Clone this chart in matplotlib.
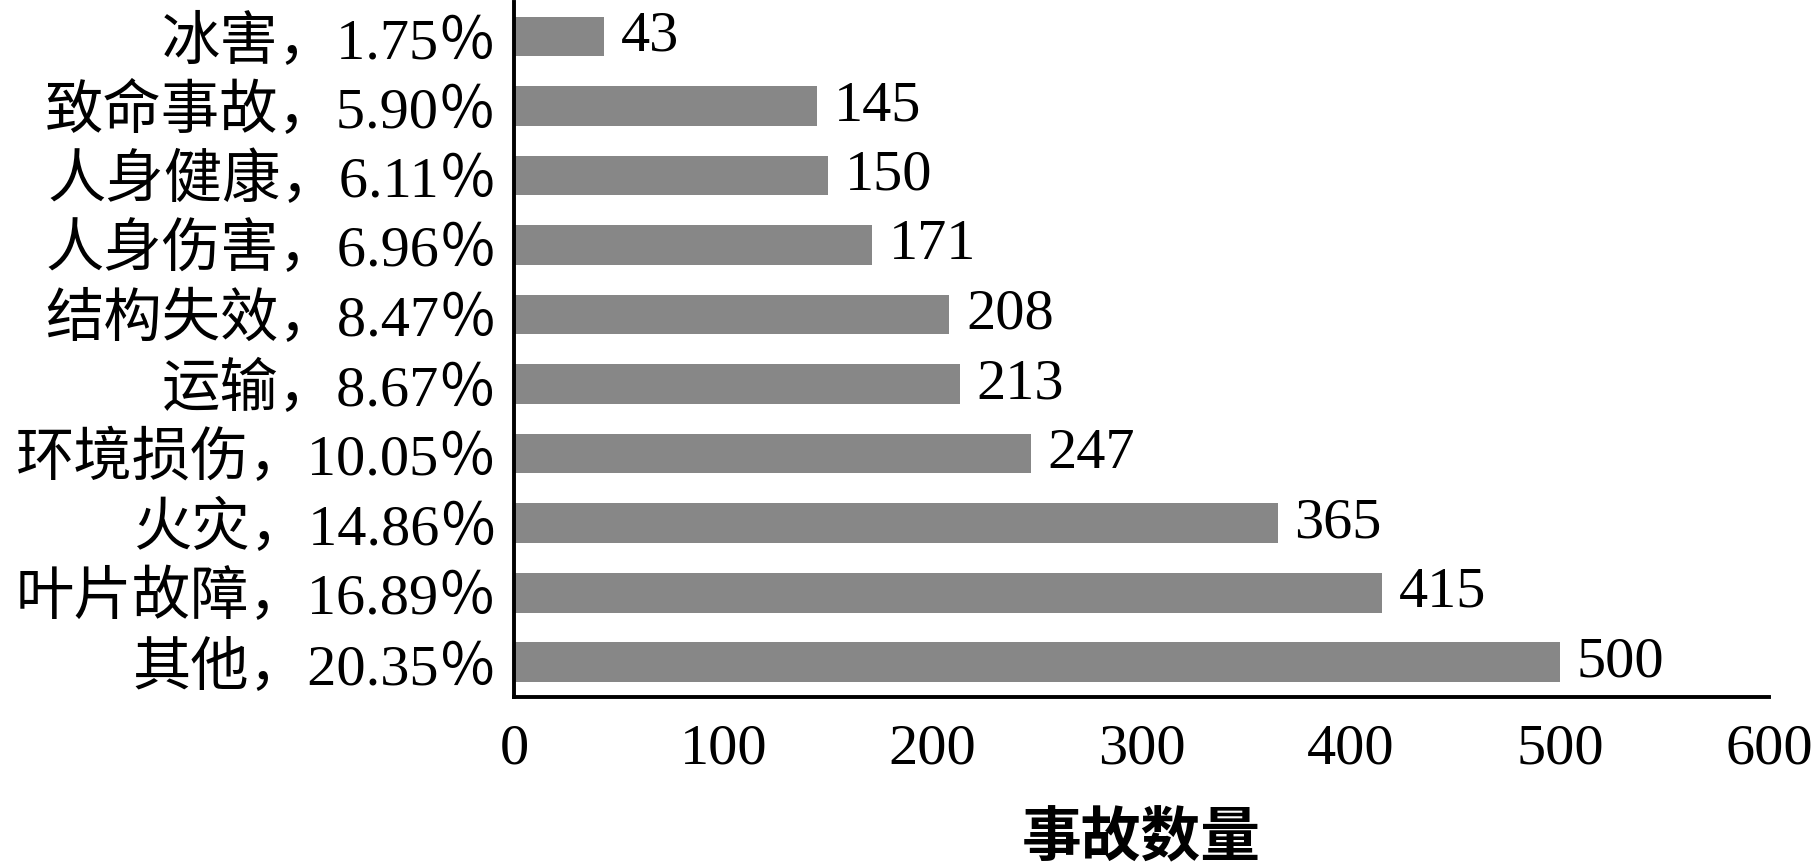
import matplotlib.pyplot as plt
import numpy as np

plt.rcParams['font.family'] = ['Liberation Serif', 'Noto Sans CJK SC']

# 数据 (从下到上)
categories = ['其他', '叶片故障', '火灾', '环境损伤', '运输', '结构失效',
              '人身伤害', '人身健康', '致命事故', '冰害']
percents = ['20.35', '16.89', '14.86', '10.05', '8.67', '8.47',
            '6.96', '6.11', '5.90', '1.75']
counts = [500, 415, 365, 247, 213, 208, 171, 150, 145, 43]
xticks = [0, 100, 200, 300, 400, 500, 600]

labels = ['%s，%s％' % (c, p) for c, p in zip(categories, percents)]
y = np.arange(len(counts))

fig = plt.figure(figsize=(18.19, 8.68), dpi=100)
ax = fig.add_axes([0.2826, 0.197, 0.69, 0.801])

ax.barh(y, counts, height=0.57, color='#878787')
for yi, v in zip(y, counts):
    ax.text(v + 8, yi, str(v), va='center', ha='left', fontsize=42)

ax.set_xlim(0, 600)
ax.set_ylim(-0.5, 9.5)
ax.set_yticks(y)
ax.set_yticklabels(labels, fontsize=42)
ax.set_xticks(xticks)
ax.set_xticklabels([str(t) for t in xticks], fontsize=42)
ax.tick_params(length=0, pad=12)
ax.tick_params(axis='x', pad=19)

for s in ['top', 'right']:
    ax.spines[s].set_visible(False)
for s in ['left', 'bottom']:
    ax.spines[s].set_linewidth(2.8)
    ax.spines[s].set_color('black')

ax.set_xlabel('事故数量', fontsize=43, labelpad=27, fontweight='bold')

fig.savefig('out.png', dpi=100)
